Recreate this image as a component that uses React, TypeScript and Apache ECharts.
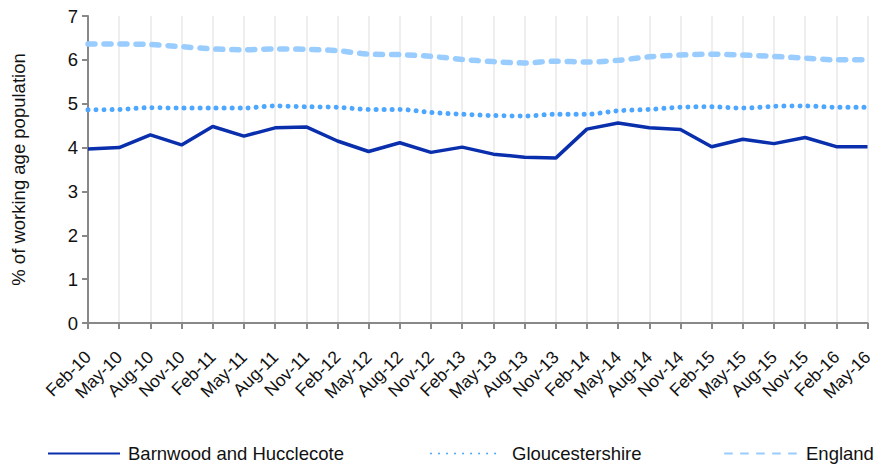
import React, { useEffect, useRef } from "react";
import * as echarts from "echarts";

const categories = [
  "Feb-10", "May-10", "Aug-10", "Nov-10", "Feb-11", "May-11", "Aug-11", "Nov-11",
  "Feb-12", "May-12", "Aug-12", "Nov-12", "Feb-13", "May-13", "Aug-13", "Nov-13",
  "Feb-14", "May-14", "Aug-14", "Nov-14", "Feb-15", "May-15", "Aug-15", "Nov-15",
  "Feb-16", "May-16",
];

const barnwood = [
  3.97, 4.0, 4.29, 4.06, 4.48, 4.26, 4.45, 4.47,
  4.15, 3.91, 4.11, 3.89, 4.01, 3.85, 3.78, 3.76,
  4.42, 4.56, 4.45, 4.41, 4.02, 4.19, 4.09, 4.23,
  4.02, 4.02,
];

const gloucestershire = [
  4.86, 4.87, 4.91, 4.9, 4.9, 4.9, 4.95, 4.93,
  4.92, 4.87, 4.87, 4.8, 4.76, 4.73, 4.72, 4.76,
  4.76, 4.84, 4.87, 4.92, 4.93, 4.9, 4.94, 4.95,
  4.92, 4.92,
];

const england = [
  6.36, 6.36, 6.35, 6.3, 6.25, 6.23, 6.25, 6.24,
  6.21, 6.13, 6.12, 6.08, 6.01, 5.96, 5.93, 5.97,
  5.95, 5.99, 6.07, 6.11, 6.13, 6.11, 6.08, 6.04,
  6.0, 6.0,
];

const yTicks = [0, 7, 1];

const FONT = "'Liberation Sans', Arial, sans-serif";

export default function App() {
  const ref = useRef<HTMLDivElement>(null);

  useEffect(() => {
    if (!ref.current) return;
    const chart = echarts.init(ref.current, undefined, { renderer: "svg" });
    const legendText = { fontFamily: FONT, fontSize: 18.5, color: "#111" };
    const legendBase = {
      top: 444,
      padding: 0,
      itemWidth: 72,
      itemHeight: 10,
      itemGap: 0,
      itemStyle: { opacity: 0, borderWidth: 0 },
    };
    chart.setOption({
      animation: false,
      textStyle: { fontFamily: FONT },
      grid: { left: 88, right: 6, top: 16, bottom: 142, containLabel: false },
      legend: [
        {
          ...legendBase,
          data: ["Barnwood and Hucclecote"],
          left: 47,
          textStyle: { ...legendText, padding: [0, 0, 0, 3] },
        },
        {
          ...legendBase,
          data: ["Gloucestershire"],
          left: 430,
          textStyle: { ...legendText, padding: [0, 0, 0, 4] },
        },
        {
          ...legendBase,
          data: ["England"],
          left: 724,
          textStyle: { ...legendText, padding: [0, 0, 0, 4] },
        },
      ],
      xAxis: {
        type: "category",
        data: categories,
        boundaryGap: false,
        axisLine: { lineStyle: { color: "#888", width: 2 } },
        axisTick: { show: true, length: 6, lineStyle: { color: "#888", width: 2 } },
        axisLabel: {
          rotate: 45,
          interval: 0,
          margin: 31,
          fontSize: 17.5,
          color: "#111",
          fontFamily: FONT,
        },
        splitLine: { show: true, lineStyle: { color: "#e8e8e8", width: 1.5 } },
      },
      yAxis: {
        type: "value",
        min: yTicks[0],
        max: yTicks[1],
        interval: yTicks[2],
        name: "% of working age population",
        nameLocation: "middle",
        nameGap: 60,
        nameTextStyle: { fontSize: 18.5, color: "#111", fontFamily: FONT },
        axisLine: { show: true, lineStyle: { color: "#888", width: 2 } },
        axisTick: { show: true, length: 6, lineStyle: { color: "#888", width: 2 } },
        axisLabel: { fontSize: 18.5, color: "#111", fontFamily: FONT, margin: 10 },
        splitLine: { show: false },
      },
      series: [
        {
          name: "Barnwood and Hucclecote",
          type: "line",
          data: barnwood,
          symbol: "none",
          lineStyle: { color: "#0a2fad", width: 3.5 },
          itemStyle: { color: "#0a2fad" },
          z: 5,
        },
        {
          name: "Gloucestershire",
          type: "line",
          data: gloucestershire,
          symbol: "none",
          smooth: 0.3,
          lineStyle: { color: "#4da6ff", width: 5, type: [0.01, 8], cap: "round" },
          itemStyle: { color: "#4da6ff" },
          z: 4,
        },
        {
          name: "England",
          type: "line",
          data: england,
          symbol: "none",
          smooth: 0.3,
          lineStyle: { color: "#99ccff", width: 5.5, type: [7, 9], cap: "round" },
          itemStyle: { color: "#99ccff" },
          z: 3,
        },
      ],
    });
    return () => chart.dispose();
  }, []);

  return <div ref={ref} style={{ width: 876, height: 465, position: "absolute", left: 0, top: 0 }} />;
}
